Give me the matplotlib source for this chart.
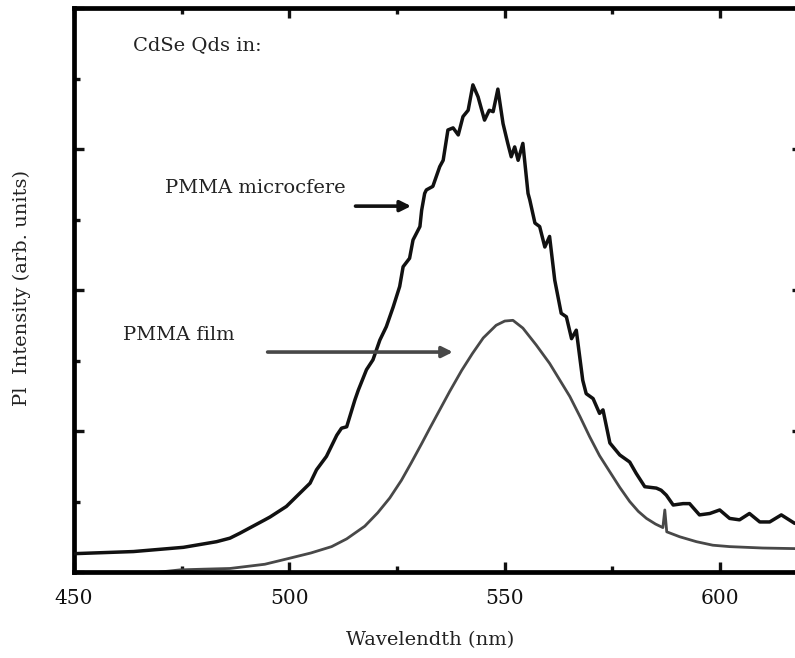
import matplotlib.pyplot as plt
from matplotlib.ticker import MultipleLocator, NullFormatter

# PL spectrum, CdSe QDs in PMMA microsphere (black)
wl_sphere = [450, 463.8, 475.4, 483.1, 486.2, 488.5, 494.3, 495.5, 499.3, 504.8, 506.3,
             508.6, 511.0, 512.1, 513.3, 514.0, 515.2, 516.0, 517.9, 519.4, 521.0, 522.5,
             524.1, 525.6, 526.4, 527.9, 528.7, 530.3, 530.7, 531.4, 531.8, 533.3, 534.9,
             535.7, 536.8, 538.0, 539.2, 540.3, 541.5, 542.6, 543.8, 545.3, 546.4, 547.3,
             548.4, 549.6, 550.7, 551.5, 552.3, 553.1, 554.2, 555.4, 555.8, 557.0, 558.1,
             559.3, 560.4, 561.6, 563.1, 564.3, 565.5, 566.6, 568.1, 568.9, 570.5, 572.0,
             572.8, 574.4, 576.7, 579.0, 580.5, 582.5, 585.2, 586.3, 587.5, 589.1, 591.4,
             592.9, 595.2, 597.6, 599.9, 602.2, 604.5, 606.8, 609.2, 611.5, 614.2, 617.3, 619]
int_sphere = [0.26, 0.29, 0.35, 0.43, 0.48, 0.55, 0.74, 0.78, 0.93, 1.26, 1.45,
              1.64, 1.94, 2.04, 2.06, 2.20, 2.44, 2.58, 2.87, 3.01, 3.29, 3.48,
              3.76, 4.05, 4.33, 4.45, 4.71, 4.90, 5.13, 5.37, 5.42, 5.47, 5.75,
              5.84, 6.27, 6.30, 6.20, 6.46, 6.55, 6.91, 6.74, 6.41, 6.55, 6.53,
              6.85, 6.36, 6.08, 5.89, 6.03, 5.84, 6.08, 5.37, 5.28, 4.95, 4.90,
              4.61, 4.76, 4.14, 3.67, 3.62, 3.31, 3.43, 2.72, 2.53, 2.46, 2.25,
              2.30, 1.83, 1.66, 1.56, 1.40, 1.21, 1.19, 1.16, 1.09, 0.95, 0.97,
              0.97, 0.81, 0.83, 0.88, 0.76, 0.74, 0.83, 0.71, 0.71, 0.81, 0.69, 0.70]

# PL spectrum, CdSe QDs in PMMA film (grey)
wl_film = [470, 474.6, 480, 486.2, 494.3, 499.7, 505, 509.8, 513.3, 517.5, 520.5, 523.3,
           526, 528.3, 530.7, 532.6, 534.9, 537.2, 540.0, 542.5, 545.0, 548.0, 550, 551.9,
           554.2, 557.3, 560.4, 562.8, 565.1, 567.5, 569.7, 572, 574.4, 576.7, 579.0, 581,
           582.9, 585, 586.7, 587.15, 587.6, 590.6, 594.5, 598.3, 602.2, 609.9, 619]
int_film = [0.0, 0.03, 0.04, 0.05, 0.11, 0.19, 0.27, 0.36, 0.47, 0.65, 0.84, 1.05,
            1.30, 1.55, 1.82, 2.04, 2.30, 2.56, 2.86, 3.10, 3.32, 3.50, 3.56, 3.57,
            3.46, 3.22, 2.96, 2.72, 2.49, 2.20, 1.92, 1.65, 1.42, 1.20, 1.00, 0.86,
            0.76, 0.68, 0.63, 0.88, 0.57, 0.50, 0.43, 0.38, 0.36, 0.34, 0.33]

x_ticks = [450, 500, 550, 600]

plt.rcParams['font.family'] = 'DejaVu Serif'

fig = plt.figure(figsize=(7.95, 6.58), dpi=100)
ax = fig.add_axes([0.0931, 0.1307, 0.9157, 0.8571])

ax.plot(wl_film, int_film, color='#484848', lw=2.0, zorder=2)
ax.plot(wl_sphere, int_sphere, color='#111111', lw=2.5, zorder=3)

ax.set_xlim(450, 619)
ax.set_ylim(0, 8)
ax.set_xticks(x_ticks)
ax.set_xticklabels([str(t) for t in x_ticks])
ax.xaxis.set_minor_locator(MultipleLocator(25))
ax.yaxis.set_major_locator(MultipleLocator(2))
ax.yaxis.set_minor_locator(MultipleLocator(1))
ax.yaxis.set_major_formatter(NullFormatter())

for s in ax.spines.values():
    s.set_linewidth(3.4)
ax.tick_params(which='both', direction='in', top=True, right=True, labelsize=14.5,
               pad=12, colors='#111111')
ax.tick_params(which='major', length=7, width=2.4)
ax.tick_params(which='minor', length=4, width=2.4)

ax.text(463.7, 7.47, 'CdSe Qds in:', fontsize=14, va='center', ha='left', color='#222222')
ax.text(471.1, 5.45, 'PMMA microcfere', fontsize=14, va='center', ha='left', color='#222222')
ax.text(461.4, 3.36, 'PMMA film', fontsize=14, va='center', ha='left', color='#222222')

ax.annotate('', xy=(528.9, 5.19), xytext=(514.7, 5.19),
            arrowprops=dict(arrowstyle='-|>', color='#111111', lw=2.6, mutation_scale=16))
ax.annotate('', xy=(538.6, 3.12), xytext=(494.3, 3.12),
            arrowprops=dict(arrowstyle='-|>', color='#484848', lw=2.6, mutation_scale=16))

fig.text(0.541, 0.027, 'Wavelendth (nm)', fontsize=14, ha='center', va='center',
         color='#222222')
fig.text(0.028, 0.562, 'Pl  Intensity (arb. units)', fontsize=14, ha='center',
         va='center', rotation=90, color='#222222')

fig.savefig('out.png', dpi=100)
